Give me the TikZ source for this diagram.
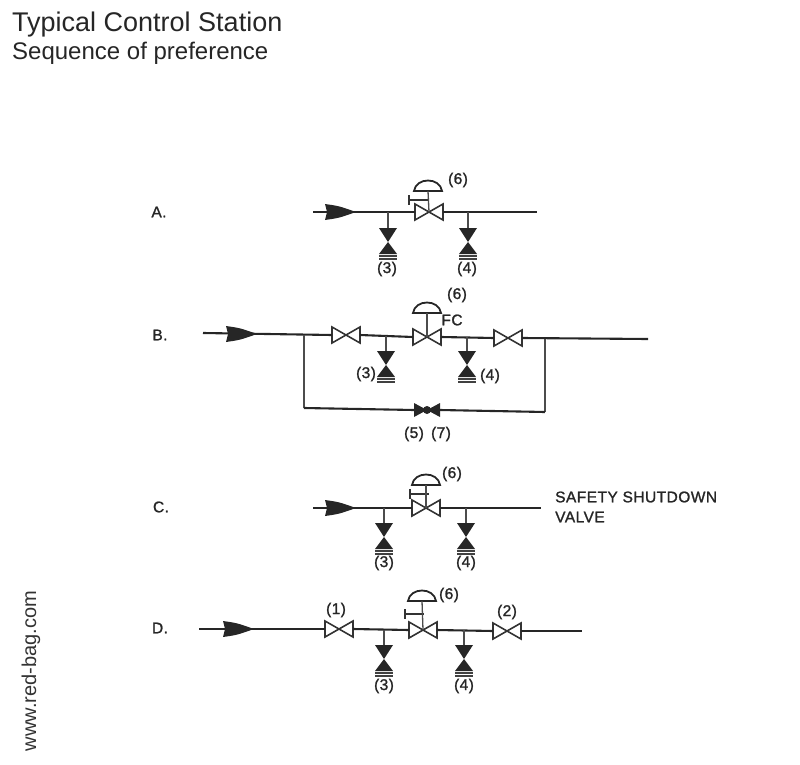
\documentclass[tikz,border=0pt]{standalone}
\usepackage{fontspec}
\setmainfont{Liberation Sans}
\newfontfamily\handfont[FakeBold=1.3,LetterSpace=3]{Liberation Sans}
\tikzset{
  pipe/.style={draw=black!85,line width=2.1pt},
  stem/.style={draw=black!70,line width=1.3pt},
  lbl/.style={inner sep=0pt,text=black!85,font=\handfont\fontsize{15.5}{17}\selectfont},
  title/.style={inner sep=0pt,anchor=west,text=black!85},
  gatevalve/.pic={
    \path[draw=black!80,fill=white,line width=1.6pt] (-14,-8) -- (14,8) -- (14,-8) -- (-14,8) -- cycle;
    \coordinate (-w) at (-14,0);
    \coordinate (-e) at (14,0);
    \coordinate (-c) at (0,0);
  },
  bypassvalve/.pic={
    \path[fill=black!85] (-13,-7) -- (0,0) -- (-13,7) -- cycle;
    \path[fill=black!85] (13,-7) -- (0,0) -- (13,7) -- cycle;
    \path[fill=black!85] (0,0) circle (4);
    \coordinate (-w) at (-13,0);
    \coordinate (-e) at (13,0);
  },
  bleedvalve/.pic={
    \path[fill=black!85] (-9,0) -- (9,0) -- (0,14) -- cycle;
    \path[fill=black!85] (0,14) -- (9,26) -- (-9,26) -- cycle;
    \path[draw=black!75,line width=1.1pt] (-9,28) -- (9,28);
    \path[draw=black!75,line width=1.1pt] (-9,31) -- (9,31);
    \coordinate (-t) at (0,0);
  },
  dome/.pic={
    \path[draw=black!85,fill=white,line width=1.8pt] (-14,0) .. controls (-12,-14) and (12,-14) .. (14,0) -- cycle;
    \coordinate (-s) at (0,0);
  },
  handwheel/.pic={
    \path[draw=black!80,line width=1.6pt] (-19,0) -- (0,0);
    \path[draw=black!80,line width=1.6pt] (-19,-5) -- (-19,5);
  },
  flowhead/.pic={
    \path[fill=black!85] (0,-8) .. controls (14,-6) .. (31,0) .. controls (14,6) .. (0,8) -- (2,0) -- cycle;
  },
}
\begin{document}
\begin{tikzpicture}[x=1pt,y=-1pt]
\useasboundingbox (0,0) rectangle (800,765);
% heading
\node[title,font=\fontsize{27}{30}\selectfont] (head) at (12,25) {Typical Control Station};
\node[title,font=\fontsize{24}{26}\selectfont] (subhead) at (12,53) {Sequence of preference};
\node[inner sep=0pt,rotate=90,text=black!80,font=\fontsize{20}{22}\selectfont] (site) at (31,671) {www.red-bag.com};
% row A
\node[lbl] (rowa) at (159,212) {A.};
\coordinate (a0) at (313,212);
\coordinate (a9) at (537,212);
\coordinate (a3t) at (388,212);
\coordinate (a4t) at (468,212);
\pic (a5) at (429,212) {gatevalve};
\path[pipe] (a0) -- (a5-w);
\path[pipe] (a5-e) -- (a9);
\pic at (325,212) {flowhead};
\pic (a6) at (428,191) {dome};
\pic at (428,200) {handwheel};
\path[stem] (a6-s) -- (a5-c);
\pic (a3) at (388,228) {bleedvalve};
\pic (a4) at (468,228) {bleedvalve};
\path[stem] (a3t) -- (a3-t);
\path[stem] (a4t) -- (a4-t);
\node[lbl] (a3l) at (387,269) {(3)};
\node[lbl] (a4l) at (467,269) {(4)};
\node[lbl] (a6l) at (458,180) {(6)};
% row B
\node[lbl] (rowb) at (160,335) {B.};
\coordinate (b0) at (203,333);
\coordinate (b9) at (648,339);
\coordinate (b3t) at (386,336);
\coordinate (b4t) at (467,337);
\coordinate (bl) at (304,335);
\coordinate (br) at (545,339);
\coordinate (bla) at (304,408);
\coordinate (bra) at (545,412);
\pic (b1) at (346,335) {gatevalve};
\pic (b5) at (427,337) {gatevalve};
\pic (b2) at (508,338) {gatevalve};
\path[pipe] (b0) -- (b1-w);
\path[pipe] (b1-e) -- (b5-w);
\path[pipe] (b5-e) -- (b2-w);
\path[pipe] (b2-e) -- (b9);
\pic at (226,334) {flowhead};
\pic (b6) at (427,313) {dome};
\path[stem] (b6-s) -- (b5-c);
\pic (b3) at (386,351) {bleedvalve};
\pic (b4) at (467,351) {bleedvalve};
\path[stem] (b3t) -- (b3-t);
\path[stem] (b4t) -- (b4-t);
\pic (b7) at (427,410) {bypassvalve};
\path[stem] (bl) -- (bla);
\path[stem] (br) -- (bra);
\path[pipe] (bla) -- (b7-w);
\path[pipe] (b7-e) -- (bra);
\node[lbl] (b6l) at (457,295) {(6)};
\node[lbl] (bfc) at (452,320) {FC};
\node[lbl] (b3l) at (366,374) {(3)};
\node[lbl] (b4l) at (490,376) {(4)};
\node[lbl] (b5l) at (414,434) {(5)};
\node[lbl] (b7l) at (441,434) {(7)};
% row C
\node[lbl] (rowc) at (161,507) {C.};
\coordinate (c0) at (313,508);
\coordinate (c9) at (541,508);
\coordinate (c3t) at (384,508);
\coordinate (c4t) at (466,508);
\pic (c5) at (426,508) {gatevalve};
\path[pipe] (c0) -- (c5-w);
\path[pipe] (c5-e) -- (c9);
\pic at (325,508) {flowhead};
\pic (c6) at (426,485) {dome};
\pic at (429,494) {handwheel};
\path[stem] (c6-s) -- (c5-c);
\pic (c3) at (384,523) {bleedvalve};
\pic (c4) at (466,523) {bleedvalve};
\path[stem] (c3t) -- (c3-t);
\path[stem] (c4t) -- (c4-t);
\node[lbl] (c3l) at (384,563) {(3)};
\node[lbl] (c4l) at (466,563) {(4)};
\node[lbl] (c6l) at (452,474) {(6)};
\node[lbl,anchor=west] (csafety) at (555,497) {SAFETY SHUTDOWN};
\node[lbl,anchor=west] (cvalve) at (555,517) {VALVE};
% row D
\node[lbl] (rowd) at (160,628) {D.};
\coordinate (d0) at (199,629);
\coordinate (d9) at (582,631);
\coordinate (d3t) at (384,630);
\coordinate (d4t) at (464,630);
\pic (d1) at (339,629) {gatevalve};
\pic (d5) at (423,630) {gatevalve};
\pic (d2) at (507,631) {gatevalve};
\path[pipe] (d0) -- (d1-w);
\path[pipe] (d1-e) -- (d5-w);
\path[pipe] (d5-e) -- (d2-w);
\path[pipe] (d2-e) -- (d9);
\pic at (223,629) {flowhead};
\pic (d6) at (422,601) {dome};
\pic at (424,614) {handwheel};
\path[stem] (d6-s) -- (d5-c);
\pic (d3) at (384,645) {bleedvalve};
\pic (d4) at (464,645) {bleedvalve};
\path[stem] (d3t) -- (d3-t);
\path[stem] (d4t) -- (d4-t);
\node[lbl] (d1l) at (336,610) {(1)};
\node[lbl] (d2l) at (507,612) {(2)};
\node[lbl] (d3l) at (384,686) {(3)};
\node[lbl] (d4l) at (464,686) {(4)};
\node[lbl] (d6l) at (449,595) {(6)};
\end{tikzpicture}
\end{document}
